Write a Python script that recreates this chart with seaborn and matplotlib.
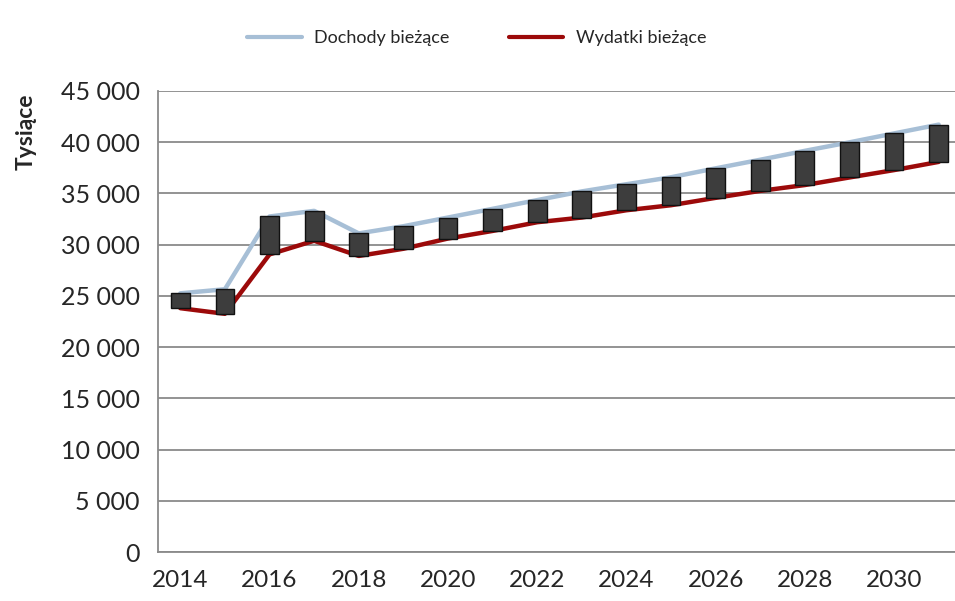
import matplotlib
matplotlib.use("Agg")
import matplotlib.pyplot as plt
from matplotlib.ticker import FixedLocator, FuncFormatter
import numpy as np
import pandas as pd
import seaborn as sns

# values (thousands)
years = list(range(2014, 2032))
dochody = [25250, 25650, 32750, 33300, 31100, 31800, 32650, 33500, 34350,
           35200, 35900, 36580, 37450, 38290, 39160, 39990, 40860, 41720]
wydatki = [23800, 23250, 29050, 30380, 28900, 29600, 30600, 31340, 32190,
           32650, 33360, 33850, 34570, 35250, 35820, 36560, 37280, 38080]
series_names = ["Dochody bieżące", "Wydatki bieżące"]
y_ticks = list(range(0, 45001, 5000))

sns.set_style("white")
plt.rcParams["font.family"] = ["Lato", "DejaVu Sans"]

df = pd.DataFrame({
    "pos": list(range(len(years))) * 2,
    "value": dochody + wydatki,
    "seria": [series_names[0]] * len(years) + [series_names[1]] * len(years),
})

fig = plt.figure(figsize=(9.55, 6.01), dpi=100)
ax = fig.add_axes([158 / 955, 49 / 601, 803 / 955, 461 / 601])

sns.lineplot(data=df, x="pos", y="value", hue="seria", ax=ax,
             palette={series_names[0]: "#A7BFD6", series_names[1]: "#9C0A0A"},
             linewidth=3.2, legend=False, zorder=2)

# up/down bars between the two series
x = np.arange(len(years))
up = np.array(dochody)
down = np.array(wydatki)
ax.bar(x, up - down, bottom=down, width=0.42, color="#3D3D3D",
       edgecolor="#111111", linewidth=1.0, zorder=3)

ax.set_xlim(-0.5, len(years) - 0.5)
ax.set_ylim(0, 45000)
ax.yaxis.set_major_locator(FixedLocator(y_ticks))
ax.yaxis.set_major_formatter(FuncFormatter(lambda v, _: f"{int(v):,}".replace(",", " ")))
ax.set_xticks(x[::2])
ax.set_xticklabels([str(y) for y in years[::2]])
ax.set_xticks(np.arange(-0.5, len(years), 1.0), minor=True)
ax.tick_params(axis="x", which="major", length=0, pad=13, labelsize=17.5, labelcolor="#262626")
ax.tick_params(axis="x", which="minor", length=8, width=1.2, color="#8A8A8A", direction="out")
ax.tick_params(axis="y", length=8, width=1.2, color="#8A8A8A", direction="out",
               pad=5, labelsize=18, labelcolor="#262626")
ax.yaxis.grid(True, color="#8A8A8A", linewidth=1.3, zorder=0)
ax.set_axisbelow(True)
for side in ["top", "right"]:
    ax.spines[side].set_visible(False)
for side in ["left", "bottom"]:
    ax.spines[side].set_color("#8A8A8A")
    ax.spines[side].set_linewidth(1.3)
ax.set_xlabel("")
ax.set_ylabel("")

fig.text(26 / 955, 1 - 132 / 601, "Tysiące", rotation=90, ha="center", va="center",
         fontsize=16.5, fontweight="bold", color="#262626")

handles = [plt.Line2D([], [], color="#A7BFD6", linewidth=3.0),
           plt.Line2D([], [], color="#9C0A0A", linewidth=3.0)]
fig.legend(handles, series_names, loc="center", bbox_to_anchor=(477 / 955, 1 - 38 / 601),
           ncol=2, frameon=False, fontsize=13, handlelength=3.0, columnspacing=3.3,
           handletextpad=0.7, labelcolor="#262626")

fig.savefig("out.png", dpi=100)
